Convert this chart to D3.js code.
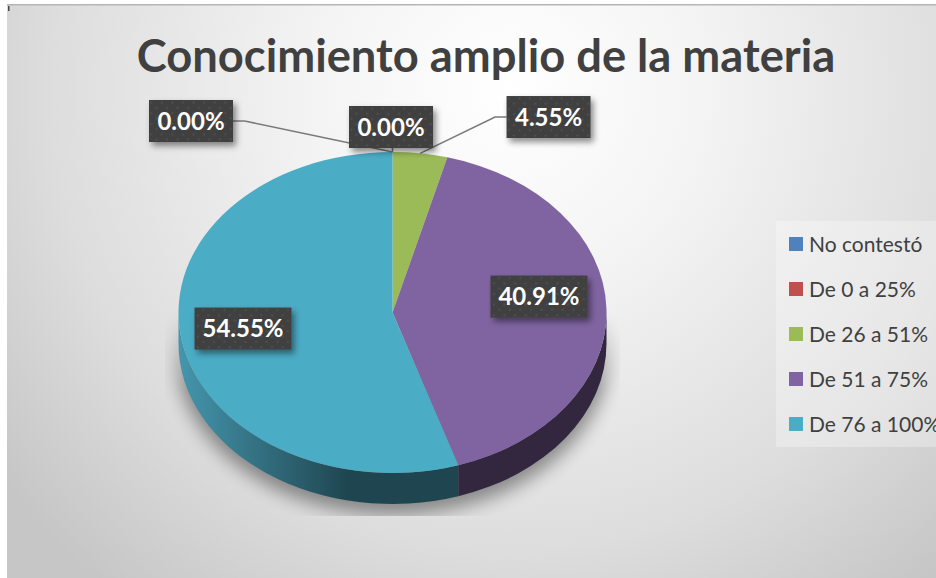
<!DOCTYPE html>
<html>
<head>
<meta charset="utf-8">
<script src="https://cdnjs.cloudflare.com/ajax/libs/d3/7.8.5/d3.min.js"></script>
<style>
  html, body { margin: 0; padding: 0; background: #fff; }
  svg { display: block; }
  text { font-family: Lato, "Open Sans", sans-serif; }
</style>
</head>
<body>
<svg></svg>
<script>
// data
var categories = ["No contestó", "De 0 a 25%", "De 26 a 51%", "De 51 a 75%", "De 76 a 100%"];
var values = [0, 0, 4.55, 40.91, 54.55];
var colors = ["#4f81bd", "#c0504d", "#9bbb59", "#8064a2", "#4bacc6"];
var title = "Conocimiento amplio de la materia";

var width = 936, height = 578,
    cx = 392.5, cy = 312.5, rx = 214, ry = 160.5, depth = 31,
    yScale = ry / rx;

var svg = d3.select("svg").attr("width", width).attr("height", height);
var defs = svg.append("defs");

var bg = defs.append("radialGradient").attr("id", "bg")
  .attr("gradientUnits", "userSpaceOnUse")
  .attr("cx", 510).attr("cy", 90).attr("r", 640);
bg.append("stop").attr("offset", "0%").attr("stop-color", "#ffffff");
bg.append("stop").attr("offset", "30%").attr("stop-color", "#f4f4f4");
bg.append("stop").attr("offset", "72%").attr("stop-color", "#dddddd");
bg.append("stop").attr("offset", "100%").attr("stop-color", "#c6c6c6");

// gradient lives inside the scaled disc group, so x is relative to cx
var wallCyan = defs.append("linearGradient").attr("id", "wallCyan")
  .attr("gradientUnits", "userSpaceOnUse")
  .attr("x1", -rx).attr("x2", -45).attr("y1", 0).attr("y2", 0);
wallCyan.append("stop").attr("offset", "0%").attr("stop-color", "#4596ad");
wallCyan.append("stop").attr("offset", "100%").attr("stop-color", "#1f4650");

defs.append("filter").attr("id", "blur")
  .attr("x", "-20%").attr("y", "-20%").attr("width", "140%").attr("height", "140%")
  .append("feGaussianBlur").attr("stdDeviation", 9);

defs.append("filter").attr("id", "boxShadow")
  .attr("x", "-20%").attr("y", "-30%").attr("width", "140%").attr("height", "170%")
  .append("feDropShadow")
  .attr("dx", 3).attr("dy", 4).attr("stdDeviation", 3)
  .attr("flood-color", "#000").attr("flood-opacity", 0.45);

var dots = defs.append("pattern").attr("id", "dots")
  .attr("patternUnits", "userSpaceOnUse").attr("width", 10.6).attr("height", 10.6);
dots.append("rect").attr("width", 10.6).attr("height", 10.6).attr("fill", "#3f3f3f");
dots.append("circle").attr("cx", 2.6).attr("cy", 2.6).attr("r", 1.2).attr("fill", "#4e4e4e");
dots.append("circle").attr("cx", 7.9).attr("cy", 7.9).attr("r", 1.2).attr("fill", "#4e4e4e");

// the shadow fades out upward and gets cut off at left, right and bottom
var fade = defs.append("linearGradient").attr("id", "shadowFade")
  .attr("gradientUnits", "userSpaceOnUse")
  .attr("x1", 0).attr("x2", 0).attr("y1", 310).attr("y2", 390);
fade.append("stop").attr("offset", "0%").attr("stop-color", "#000");
fade.append("stop").attr("offset", "100%").attr("stop-color", "#fff");
defs.append("mask").attr("id", "shadowMask")
  .attr("maskUnits", "userSpaceOnUse")
  .attr("x", 165).attr("y", 300).attr("width", 455).attr("height", 216)
  .append("rect")
  .attr("x", 165).attr("y", 300).attr("width", 455).attr("height", 216)
  .attr("fill", "url(#shadowFade)");

// background
svg.append("rect").attr("x", 7).attr("y", 4).attr("width", width - 7).attr("height", height - 4)
  .attr("fill", "url(#bg)");
svg.append("rect").attr("x", 7).attr("y", 4).attr("width", width - 7).attr("height", 1.5)
  .attr("fill", "#b5b5b5");
svg.append("rect").attr("x", 8).attr("y", 6).attr("width", 1.5).attr("height", 5)
  .attr("fill", "#444");

svg.append("text")
  .attr("x", 486).attr("y", 72)
  .attr("text-anchor", "middle")
  .attr("font-size", 45.3).attr("font-weight", 700)
  .attr("fill", "#404040")
  .text(title);

// slices, angles nudged a little for the perspective of the 3d view
var pie = d3.pie().sort(null)(values);
function persp(a) { return a - 0.095 * Math.sin(a); }
pie.forEach(function (d) {
  d.a0 = persp(d.startAngle);
  d.a1 = persp(d.endAngle);
  d.mid = (d.a0 + d.a1) / 2;
});

function onRim(a, k) {
  return [cx + k * rx * Math.sin(a), cy - k * ry * Math.cos(a)];
}

// shadow under the disc
svg.append("g").attr("mask", "url(#shadowMask)")
  .append("ellipse")
  .attr("cx", cx).attr("cy", cy + depth + 8)
  .attr("rx", rx + 3).attr("ry", ry + 3)
  .attr("fill", "#000").attr("opacity", 0.4)
  .attr("filter", "url(#blur)");

var disc = svg.append("g")
  .attr("transform", "translate(" + cx + "," + cy + ") scale(1," + yScale + ")");

// outer wall: only the part of each slice on the front half
var wallFill = { 3: "#33263f", 4: "url(#wallCyan)" };
pie.forEach(function (d, i) {
  var a0 = Math.max(d.a0, Math.PI / 2), a1 = Math.min(d.a1, 3 * Math.PI / 2);
  if (a1 <= a0) return;
  var p = d3.path(), dy = depth / yScale;
  p.arc(0, 0, rx, a0 - Math.PI / 2, a1 - Math.PI / 2);
  p.arc(0, dy, rx, a1 - Math.PI / 2, a0 - Math.PI / 2, true);
  p.closePath();
  disc.append("path").attr("d", p.toString()).attr("fill", wallFill[i]);
});

var arc = d3.arc().innerRadius(0).outerRadius(rx)
  .startAngle(function (d) { return d.a0; })
  .endAngle(function (d) { return d.a1; });

disc.selectAll("path.slice")
  .data(pie.filter(function (d) { return d.value > 0; }))
  .enter().append("path")
  .attr("class", "slice")
  .attr("d", arc)
  .attr("fill", function (d) { return colors[d.index]; });

// data labels: offset from the slice rim (k 1) or its centroid (k .5)
var labelLayout = [
  { k: 1, dx: -201.5, dy: -31, w: 84, side: "right" },
  { k: 1, dx: -1.5, dy: -25, w: 84, side: "bottom" },
  { k: 1, dx: 128.4, dy: -36.3, w: 84, side: "left" },
  { k: 0.5, dx: 39.5, dy: -13.8, w: 97 },
  { k: 0.5, dx: -43.8, dy: 3.6, w: 97 }
];
var labelH = 42, elbow = 11.5;
var pct = d3.format(".2f");
var lineGen = d3.line();

pie.forEach(function (d, i) {
  var l = labelLayout[i], a = onRim(d.mid, l.k);
  l.x = a[0] + l.dx;
  l.y = a[1] + l.dy;
  if (!l.side) return;
  var pts;
  if (l.side === "right") pts = [[l.x + l.w / 2, l.y], [l.x + l.w / 2 + elbow, l.y], a];
  if (l.side === "left") pts = [[l.x - l.w / 2, l.y], [l.x - l.w / 2 - elbow, l.y], a];
  if (l.side === "bottom") pts = [[a[0], l.y + labelH / 2], a];
  svg.append("path")
    .attr("d", lineGen(pts))
    .attr("fill", "none").attr("stroke", "#7a7a7a").attr("stroke-width", 1.6);
});

pie.forEach(function (d, i) {
  var l = labelLayout[i];
  var g = svg.append("g").attr("transform", "translate(" + l.x + "," + l.y + ")");
  g.append("rect")
    .attr("x", -l.w / 2).attr("y", -labelH / 2)
    .attr("width", l.w).attr("height", labelH)
    .attr("fill", "url(#dots)")
    .attr("filter", "url(#boxShadow)");
  g.append("text")
    .attr("text-anchor", "middle").attr("y", 8.5)
    .attr("font-size", 24).attr("font-weight", 700)
    .attr("fill", "#fff")
    .text(pct(d.value) + "%");
});

// legend
var legend = svg.append("g");
legend.append("rect")
  .attr("x", 776).attr("y", 221).attr("width", 160).attr("height", 226)
  .attr("fill", "#fff").attr("opacity", 0.3);

var legendY = d3.scalePoint().domain(categories).range([244, 424]);
var item = legend.selectAll("g.item").data(categories).enter().append("g")
  .attr("class", "item")
  .attr("transform", function (d) { return "translate(789," + legendY(d) + ")"; });
item.append("rect")
  .attr("y", -7).attr("width", 14).attr("height", 14)
  .attr("fill", function (d, i) { return colors[i]; });
item.append("text")
  .attr("x", 20).attr("y", 8)
  .attr("font-size", 21).attr("fill", "#404040")
  .text(function (d) { return d; });
</script>
</body>
</html>
